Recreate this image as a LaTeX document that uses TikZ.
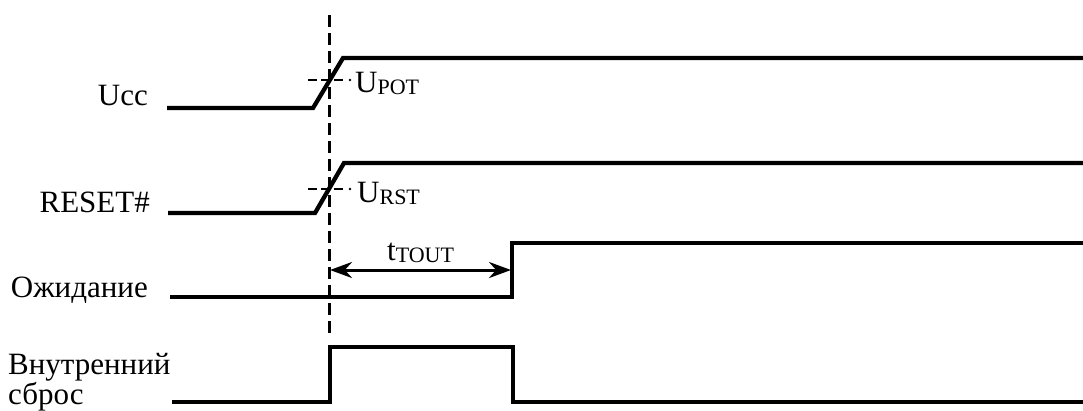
\documentclass[tikz,border=0pt]{standalone}
\usepackage{fontspec}
\setmainfont{Liberation Serif}
\usetikzlibrary{arrows.meta}
\newcommand{\bigf}{\fontsize{31}{33}\selectfont}
\newcommand{\subf}[1]{\raisebox{-2.5pt}{\fontsize{22}{22}\selectfont #1}}
\tikzset{
  wave/.style={line width=4.3pt, line join=miter},
  vdash/.style={line width=3pt, dash pattern=on 12pt off 6pt},
  tick/.style={line width=2.4pt, dash pattern=on 9pt off 4pt},
  lbl/.style={inner sep=0pt, font=\bigf},
  dim/.style={line width=3pt, {Stealth[length=22pt,width=16pt]}-{Stealth[length=22pt,width=16pt]}}
}
\begin{document}
\begin{tikzpicture}[x=1pt,y=-1pt]
\useasboundingbox (0,0) rectangle (1083,410);
% labels
\node[lbl, anchor=base east] (ucc) at (148,105) {Ucc};
\node[lbl, anchor=base east] (rst) at (150,212) {RESET\#};
\node[lbl, anchor=base east] (wait) at (148,297) {Ожидание};
\node[lbl, anchor=base west] (int1) at (8,374) {Внутренний};
\node[lbl, anchor=base west] (int2) at (8,404) {сброс};
% waveforms
\draw[wave] (167,108) -- (313,108) -- (343,58) -- (1090,58);
\draw[wave] (168,213) -- (315,213) -- (344,163) -- (1090,163);
\draw[wave] (170,297) -- (512,297) -- (512,243) -- (1090,243);
\draw[wave] (172,402) -- (330,402) -- (330,347) -- (513,347) -- (513,402) -- (1090,402);
% dashed reference line
\draw[vdash] (329,15) -- (329,338);
% threshold ticks
\draw[tick] (308,80) -- (343,80);
\fill (350,80) circle (1.3pt);
\node[lbl, anchor=base west] (upot) at (355,92) {U\subf{POT}};
\draw[tick] (308,189) -- (343,189);
\fill (350,189) circle (1.3pt);
\node[lbl, anchor=base west] (urst) at (357,202) {U\subf{RST}};
% timeout dimension
\coordinate (ta) at (330,270);
\coordinate (tb) at (511,270);
\draw[dim] (ta) -- (tb);
\node[lbl, anchor=base west] (tout) at (387,260) {t\subf{TOUT}};
\end{tikzpicture}
\end{document}
